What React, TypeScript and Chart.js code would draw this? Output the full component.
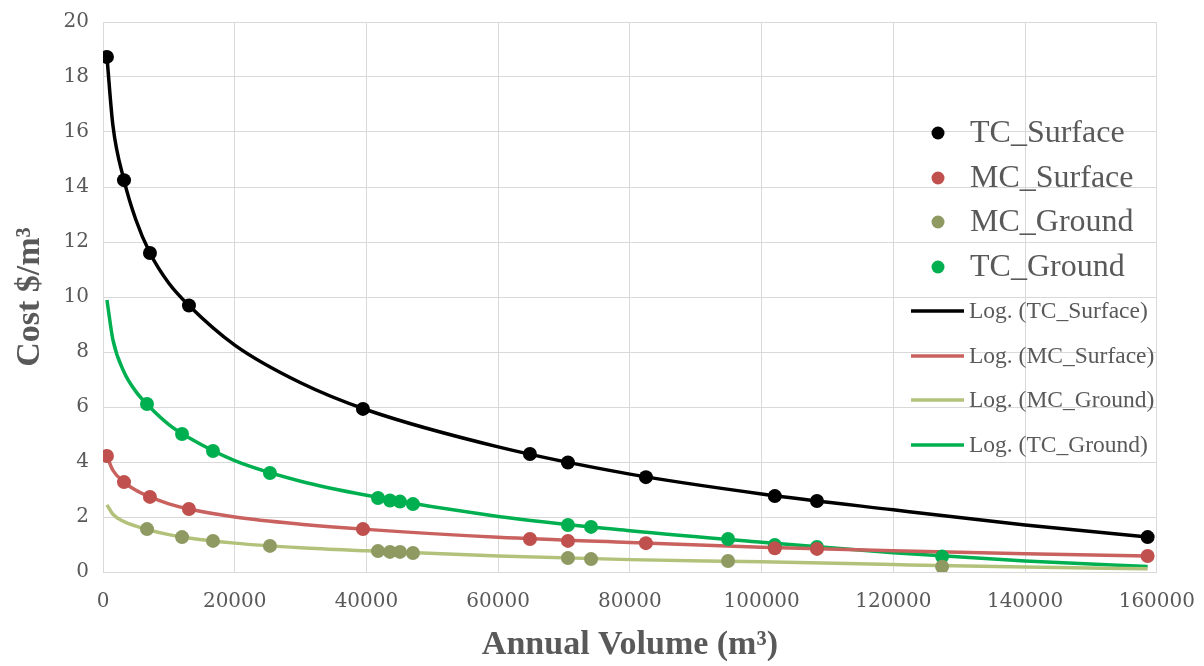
import React, { useEffect, useRef } from "react";
import { Chart, registerables } from "chart.js";

Chart.register(...registerables);

// ---------- data ----------
const surfaceX = [600, 3190, 7130, 13050, 39470, 64820, 70590, 82430, 102000, 108400, 158600];
const tcSurface = [18.73, 14.25, 11.6, 9.69, 5.93, 4.29, 3.98, 3.45, 2.76, 2.58, 1.27];
const mcSurface = [4.22, 3.27, 2.73, 2.29, 1.56, 1.2, 1.13, 1.05, 0.86, 0.84, 0.58];

const tcGroundX = [6680, 12000, 16700, 25350, 41750, 43570, 45090, 47060, 70590, 74100, 94900, 102000, 108400, 127400];
const tcGround = [6.11, 5.02, 4.4, 3.6, 2.69, 2.6, 2.56, 2.47, 1.71, 1.64, 1.2, 0.98, 0.91, 0.56];

const mcGroundX = [6680, 12000, 16700, 25350, 41750, 43570, 45090, 47060, 70590, 74100, 94900, 127400];
const mcGround = [1.56, 1.27, 1.13, 0.95, 0.76, 0.73, 0.73, 0.69, 0.51, 0.47, 0.4, 0.19];

// logarithmic trend lines
const trendX = [600, 1500, 3190, 5000, 7130, 10000, 13050, 20000, 30000, 40000, 60000, 80000, 100000, 120000, 140000, 158600];
const tcSurfaceTrend = [18.73, 16.25, 14.25, 12.8, 11.6, 10.5, 9.69, 8.25, 6.88, 5.9, 4.55, 3.56, 2.84, 2.26, 1.71, 1.27];
const mcSurfaceTrend = [4.22, 3.7, 3.27, 2.97, 2.73, 2.48, 2.29, 2.0, 1.74, 1.55, 1.26, 1.07, 0.9, 0.77, 0.66, 0.58];
const tcGroundTrend = [9.89, 8.45, 7.27, 6.56, 5.99, 5.36, 4.88, 4.05, 3.3, 2.79, 2.02, 1.5, 1.08, 0.7, 0.4, 0.2];
const mcGroundTrend = [2.44, 2.1, 1.83, 1.67, 1.52, 1.36, 1.24, 1.05, 0.88, 0.77, 0.58, 0.45, 0.37, 0.27, 0.18, 0.12];

const xTickValues = [0, 20000, 40000, 60000, 80000, 100000, 120000, 140000, 160000];
const yTickValues = [0, 2, 4, 6, 8, 10, 12, 14, 16, 18, 20];

const pointNames = ["TC_Surface", "MC_Surface", "MC_Ground", "TC_Ground"];
const pointColors = ["#000000", "#C0504D", "#8E9A62", "#00B050"];
const lineNames = ["Log. (TC_Surface)", "Log. (MC_Surface)", "Log. (MC_Ground)", "Log. (TC_Ground)"];
const lineColors = ["#000000", "#C9625F", "#B3C27A", "#00B050"];

const toXY = (xs: number[], ys: number[]) => xs.map((x, i) => ({ x, y: ys[i] }));

const TEXT = "#595959";
const GRID = "#D9D9D9";

const legendPlugin = {
  id: "customLegend",
  afterDraw(chart: any) {
    const ctx = chart.ctx as CanvasRenderingContext2D;
    ctx.save();
    ctx.textBaseline = "middle";
    ctx.textAlign = "left";
    const pointYs = [133, 178, 222, 267];
    pointNames.forEach((name, i) => {
      ctx.beginPath();
      ctx.fillStyle = pointColors[i];
      ctx.arc(938, pointYs[i], 6.5, 0, Math.PI * 2);
      ctx.fill();
      ctx.fillStyle = TEXT;
      ctx.font = "32px 'Liberation Serif'";
      ctx.fillText(name, 970, pointYs[i] + 1);
    });
    const lineYs = [311, 356, 400, 445];
    lineNames.forEach((name, i) => {
      ctx.beginPath();
      ctx.strokeStyle = lineColors[i];
      ctx.lineWidth = 3.5;
      ctx.moveTo(911, lineYs[i]);
      ctx.lineTo(964, lineYs[i]);
      ctx.stroke();
      ctx.fillStyle = TEXT;
      ctx.font = "23.5px 'Liberation Serif'";
      ctx.fillText(name, 969, lineYs[i] + 1);
    });
    ctx.restore();
  },
};

export default function App() {
  const ref = useRef<HTMLCanvasElement>(null);

  useEffect(() => {
    document.body.style.margin = "0";
    const canvas = ref.current!;
    const pointSets = [
      toXY(surfaceX, tcSurface),
      toXY(surfaceX, mcSurface),
      toXY(mcGroundX, mcGround),
      toXY(tcGroundX, tcGround),
    ];
    const trendSets = [
      toXY(trendX, tcSurfaceTrend),
      toXY(trendX, mcSurfaceTrend),
      toXY(trendX, mcGroundTrend),
      toXY(trendX, tcGroundTrend),
    ];
    const datasets: any[] = [];
    pointSets.forEach((data, i) => {
      datasets.push({
        label: pointNames[i],
        data,
        showLine: false,
        pointRadius: 7,
        pointBackgroundColor: pointColors[i],
        pointBorderColor: pointColors[i],
        pointBorderWidth: 0,
        order: 0,
      });
    });
    trendSets.forEach((data, i) => {
      datasets.push({
        label: lineNames[i],
        data,
        showLine: true,
        pointRadius: 0,
        borderColor: lineColors[i],
        borderWidth: 3.5,
        cubicInterpolationMode: "monotone",
        fill: false,
        order: 1,
      });
    });

    const chart = new Chart(canvas, {
      type: "scatter",
      data: { datasets },
      plugins: [legendPlugin],
      options: {
        responsive: false,
        animation: false,
        layout: { padding: { top: 22, right: 47, left: 0, bottom: 0 } },
        plugins: {
          legend: { display: false },
          tooltip: { enabled: false },
        },
        scales: {
          x: {
            type: "linear",
            min: 0,
            max: 160000,
            afterBuildTicks: (scale: any) => {
              scale.ticks = xTickValues.map((v) => ({ value: v }));
            },
            afterFit: (scale: any) => {
              scale.height = 94;
            },
            ticks: {
              color: TEXT,
              font: { family: "'DejaVu Serif'", size: 20, lineHeight: 2.1 },
              padding: 9,
              maxRotation: 0,
              callback: (v: any) => String(v),
            },
            grid: { color: GRID, lineWidth: 1, drawTicks: false },
            border: { color: GRID },
            title: {
              display: true,
              text: "Annual Volume (m³)",
              color: TEXT,
              font: { family: "'Liberation Serif'", size: 34, weight: "bold" },
              padding: { top: 0, bottom: 0 },
            },
          },
          y: {
            type: "linear",
            min: 0,
            max: 20,
            afterBuildTicks: (scale: any) => {
              scale.ticks = yTickValues.map((v) => ({ value: v }));
            },
            afterFit: (scale: any) => {
              scale.width = 103;
            },
            ticks: {
              color: TEXT,
              font: { family: "'DejaVu Serif'", size: 20, lineHeight: 0.8 },
              padding: 14,
            },
            grid: { color: GRID, lineWidth: 1, drawTicks: false },
            border: { color: GRID },
            title: {
              display: true,
              text: "Cost $/m³",
              color: TEXT,
              font: { family: "'Liberation Serif'", size: 34, weight: "bold" },
              padding: { top: 10, bottom: 0 },
            },
          },
        },
      },
    });
    return () => chart.destroy();
  }, []);

  return (
    <div style={{ width: 1204, height: 666 }}>
      <canvas ref={ref} width={1204} height={666} style={{ display: "block" }} />
    </div>
  );
}
